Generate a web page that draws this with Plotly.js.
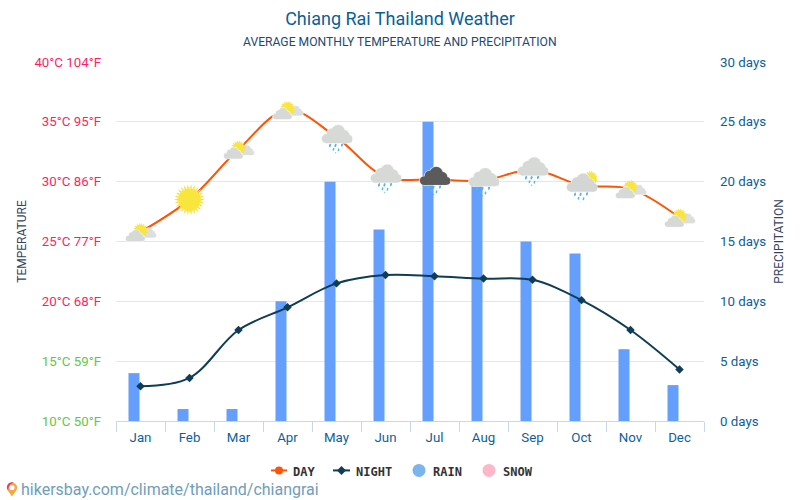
<!DOCTYPE html>
<html><head><meta charset="utf-8">
<script src="https://cdn.plot.ly/plotly-3.0.1.min.js"></script>
<style>html,body{margin:0;padding:0;background:#fff}#c{width:800px;height:500px}</style></head>
<body><div id="c"></div>
<script>
const months = ['Jan','Feb','Mar','Apr','May','Jun','Jul','Aug','Sep','Oct','Nov','Dec'];
const dayTemp = [25.8,28.5,32.7,36.0,33.7,30.4,30.2,30.1,31.0,29.7,29.4,27.0];
const nightTemp = [12.9,13.6,17.6,19.5,21.5,22.2,22.1,21.9,21.8,20.1,17.6,14.3];
const rainDays = [4,1,1,10,20,16,25,20,15,14,6,3];
const snowDays = [0,0,0,0,0,0,0,0,0,0,0,0];
const icons = ['partly','sun','partly','partly','rain','rain','storm','rain','rain','sunrain','partly','partly'];
const tempTicks = [10,15,20,25,30,35,40];
const tempLabels = ['10°C 50°F','15°C 59°F','20°C 68°F','25°C 77°F','30°C 86°F','35°C 95°F','40°C 104°F'];
const tempColors = ['#62c84a','#62c84a','#ff1f66','#ff1f66','#ff1f66','#ff1f66','#ff1f66'];
const rainTicks = [0,5,10,15,20,25,30];
const rainLabels = ['0 days','5 days','10 days','15 days','20 days','25 days','30 days'];
const legendNames = ['DAY','NIGHT','RAIN','SNOW'];

const uri = s => 'data:image/svg+xml;utf8,' + encodeURIComponent(
  '<svg xmlns="http://www.w3.org/2000/svg" width="64" height="64" viewBox="0 0 32 32">' + s + '</svg>');
const cloud = (cx, cy, s, fill) => {
  const c = [[-9,2.2,3.8],[-4,-2,4.6],[1.5,-4,5.8],[7,-1,4.2],[10.5,2.4,3.4]];
  const shape = (f, extra) => c.map(p =>
    `<circle cx="${cx+p[0]*s}" cy="${cy+p[1]*s}" r="${p[2]*s+extra}" fill="${f}"/>`).join('') +
    `<rect x="${cx-9*s}" y="${cy+1*s-extra}" width="${19.5*s}" height="${5*s+extra*2}" fill="${f}"/>`;
  return shape('#f4f5f3', 0.6) + shape(fill, 0);
};
const drops = (cx, cy) => [[-7,0,1.1],[-3.5,4,.9],[-1.5,0,1.1],[1.5,4.5,.9],[5,-.5,1.1],[-1.5,8,.7]].map(d =>
  `<ellipse cx="${cx+d[0]}" cy="${cy+d[1]}" rx="${d[2]*.9}" ry="${d[2]*1.7}" fill="#55b6ea" transform="rotate(15 ${cx+d[0]} ${cy+d[1]})"/>`).join('');
const sunDisc = (cx, cy, r, n, R) => {
  let p = '';
  for (let i = 0; i < n; i++) {
    const a = i / n * 2 * Math.PI, w = Math.PI / n * .75;
    p += `M${cx+r*Math.cos(a-w)} ${cy+r*Math.sin(a-w)}L${cx+R*Math.cos(a)} ${cy+R*Math.sin(a)}L${cx+r*Math.cos(a+w)} ${cy+r*Math.sin(a+w)}Z`;
  }
  return `<path d="${p}" fill="#f7dd4a"/><circle cx="${cx}" cy="${cy}" r="${r}" fill="#f8e63c"/>`;
};
const iconSvg = {
  sun: uri(sunDisc(16,16,11.5,26,15.5)),
  partly: uri(cloud(23.5,18,.6,'#dcdfdb') + sunDisc(16,14.5,6,18,7.6) + cloud(10.5,21,.71,'#d6d9d5')),
  rain: uri(drops(16.5,24) + cloud(16,14.8,1.15,'#d6d9d6')),
  storm: uri(drops(16.5,24) + cloud(16,14.8,1.15,'#5b5b5b')),
  sunrain: uri(sunDisc(25,9,6,18,7.6) + drops(16.5,25) + cloud(16,15.5,1.15,'#d3d6d4')),
  pin: uri('<path d="M16 31C10 22 5 18 5 12a11 11 0 0 1 22 0C27 18 22 22 16 31Z" fill="#f5a742"/><path d="M5 12a11 11 0 0 1 16-10C13 3 8 8 8 18 6 16 5 14 5 12Z" fill="#f0386b"/><circle cx="16" cy="12" r="5.5" fill="#fff"/>')
};
const L = 116, W = 588, T = 62, H = 359.5;
const px = x => (x - L) / W, py = y => 1 - (y - T) / H;

const tick = (t, c) => `<span style="color:${c}">${t}</span>`;
const traces = [
  {type:'bar', name:'RAIN', x:months, y:rainDays, width:0.2245, offset:-0.245, marker:{color:'#649ffd'}, yaxis:'y'},
  {type:'bar', name:'SNOW', x:months, y:snowDays, width:0.2245, offset:0.02, marker:{color:'#ffb6c8'}, yaxis:'y'},
  {type:'scatter', mode:'lines', name:'DAY', x:months, y:dayTemp, yaxis:'y2',
    line:{color:'#ff5405', width:2, shape:'spline', smoothing:1}},
  {type:'scatter', mode:'lines+markers', name:'NIGHT', x:months, y:nightTemp, yaxis:'y2',
    line:{color:'#0f3d55', width:2, shape:'spline', smoothing:1}, marker:{symbol:'diamond', size:6.5, color:'#0f3d55'}}
];
const images = icons.map((k,i) => ({source:iconSvg[k], xref:'x', yref:'y2', x:i, y:dayTemp[i],
  sizex:32/49, sizey:32/12, xanchor:'center', yanchor:'middle', sizing:'stretch', layer:'above'}));
images.push({source:iconSvg.pin, xref:'paper', yref:'paper', x:px(12), y:py(490), sizex:15/W, sizey:15/H,
  xanchor:'center', yanchor:'middle', sizing:'contain', layer:'above'});

const LEG_Y = 471;
const legShape = (o) => Object.assign({xref:'paper', yref:'paper', layer:'above'}, o);
const circle = (cx, r, c) => legShape({type:'circle', x0:px(cx-r), x1:px(cx+r), y0:py(LEG_Y-r), y1:py(LEG_Y+r), fillcolor:c, line:{width:0}});
const hline = (a, b, c) => legShape({type:'line', x0:px(a), x1:px(b), y0:py(LEG_Y), y1:py(LEG_Y), line:{color:c, width:2}});
const shapes = [
  hline(271,287,'#ff5405'), circle(279,4,'#ff5405'),
  hline(333,350,'#0f3d55'),
  circle(419,6.5,'#7cb5ec'), circle(489,6.5,'#ffb6c8'),
  legShape({type:'path',
    path:`M ${px(337)} ${py(LEG_Y)} L ${px(341.5)} ${py(LEG_Y-4.5)} L ${px(346)} ${py(LEG_Y)} L ${px(341.5)} ${py(LEG_Y+4.5)} Z`,
    fillcolor:'#0f3d55', line:{width:0}})
];
const legendX = [292,355,432,502];

const layout = {
  width:800, height:500, paper_bgcolor:'#fff', plot_bgcolor:'#fff', showlegend:false, hovermode:false,
  font:{family:'Roboto, sans-serif'},
  margin:{l:L, r:800-L-W, t:T, b:500-T-H, pad:0},
  barmode:'overlay',
  title:{text:'Chiang Rai Thailand Weather', font:{size:18, color:'#0b5f96', family:'Roboto'}, x:0.5, xanchor:'center', y:0.963, yanchor:'middle'},
  xaxis:{type:'category', categories:months, range:[-0.5,11.5], tickson:'boundaries', ticks:'outside', ticklen:10, tickcolor:'#ccd6eb', tickwidth:1,
    showline:true, linecolor:'#ccd6eb', linewidth:1, showgrid:false, zeroline:false, ticklabelstandoff:4,
    tickfont:{size:13.3, color:'#0d5f99', family:'Roboto'}},
  yaxis:{range:[0,30], side:'right', tickvals:rainTicks, ticktext:rainLabels, showgrid:true, gridcolor:'#e6e6e6', gridwidth:1, zeroline:false, showline:false,
    ticks:'', ticklabelstandoff:15, tickfont:{size:13.3, color:'#0d5f99', family:'Roboto'},
    title:{text:'PRECIPITATION', font:{size:12, color:'#33465f', family:'Roboto'}, standoff:9}},
  yaxis2:{overlaying:'y', side:'left', range:[10,40], tickvals:tempTicks, ticktext:tempLabels.map((t,i)=>tick(t,tempColors[i])),
    showgrid:false, zeroline:false, showline:false, ticks:'', ticklabelstandoff:14, tickfont:{size:13.3, color:'#ff1f66', family:'Roboto'},
    title:{text:'TEMPERATURE', font:{size:12, color:'#33465f', family:'Roboto'}, standoff:5}},
  images:images,
  shapes:shapes,
  annotations:[
    {text:'AVERAGE MONTHLY TEMPERATURE AND PRECIPITATION', xref:'paper', yref:'paper', x:px(400), y:py(42), showarrow:false, xanchor:'center', yanchor:'middle', font:{size:12.15, color:'#1d4a72', family:'Roboto'}},
    {text:'hikersbay.com/climate/thailand/chiangrai', xref:'paper', yref:'paper', x:px(20), y:py(490), showarrow:false, xanchor:'left', yanchor:'middle', xshift:-1, font:{size:16, color:'#6f9dba', family:'Roboto'}}
  ].concat(legendNames.map((n,i)=>({text:'<b>'+n+'</b>', xref:'paper', yref:'paper', x:px(legendX[i]), y:py(LEG_Y+1.5), showarrow:false, xanchor:'left', yanchor:'middle', xshift:-1, font:{size:12, color:'#333', family:'DejaVu Sans Mono'}})))
};
Plotly.newPlot('c', traces, layout, {displayModeBar:false, staticPlot:true});
</script></body></html>
